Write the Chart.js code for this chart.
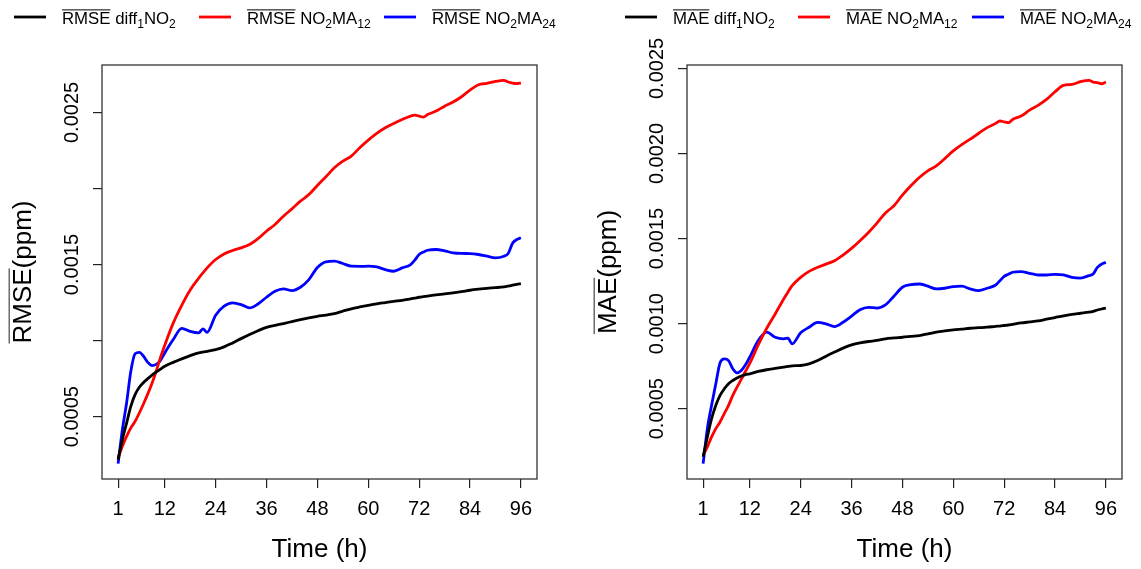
<!DOCTYPE html>
<html lang="en">
  <head>
    <meta charset="UTF-8" />
    <script src="https://cdn.jsdelivr.net/npm/chart.js@4.4.1/dist/chart.umd.min.js"></script>
    <title>RMSE / MAE</title>
    <style>
      body { margin: 0; background: #fff; }
      canvas { position: absolute; top: 0; }
      #rmseChart { left: 0; }
      #maeChart { left: 570px; }
    </style>
  </head>
  <body>
    <canvas id="rmseChart" width="570" height="569"></canvas>
    <canvas id="maeChart" width="571" height="569"></canvas>
    <script>
      const hours = [1, 2, 3, 4, 5, 6, 7, 8, 9, 10, 11, 12, 14, 16, 18, 20, 21, 22,
        24, 26, 28, 30, 32, 34, 36, 38, 40, 42, 44, 46,
        48, 50, 52, 54, 56, 58, 60, 62, 64, 66, 68, 70, 71, 72, 73, 74,
        76, 78, 80, 82, 84, 86, 88, 90, 92, 93, 94, 95, 96];

      const rmseDiff1 = [0.000217, 0.000349, 0.000458, 0.000568, 0.000645, 0.000693, 0.000725, 0.00075, 0.000773, 0.000794, 0.000813, 0.000831,
        0.000857, 0.00088, 0.000901, 0.000919, 0.000925, 0.00093,
        0.000941, 0.000959, 0.000985, 0.001013, 0.00104, 0.001065, 0.001087, 0.0011, 0.001112, 0.001125, 0.001138, 0.00115,
        0.00116, 0.001168, 0.001178, 0.001194, 0.001209, 0.001221, 0.001232, 0.001242, 0.00125, 0.001258, 0.001265, 0.001275,
        0.00128, 0.001285, 0.001289, 0.001293,
        0.001301, 0.001307, 0.001314, 0.001322, 0.001331, 0.001338, 0.001344, 0.001348, 0.001353,
        0.001358, 0.001364, 0.00137, 0.001375];
      const rmseMA12 = [0.000228, 0.000305, 0.00037, 0.000426, 0.000469, 0.000524, 0.000585, 0.00065, 0.00072, 0.0008, 0.00089, 0.00097,
        0.001115, 0.001232, 0.001333, 0.00141, 0.001445, 0.001478,
        0.001533, 0.00157, 0.001592, 0.00161, 0.001632, 0.001671, 0.001719, 0.001763, 0.001818, 0.001866, 0.001917, 0.00196,
        0.00202, 0.002077, 0.002136, 0.00218, 0.002213, 0.002268, 0.002318, 0.002362, 0.002399, 0.002428, 0.002454, 0.002476,
        0.002482, 0.002476, 0.002469, 0.002486,
        0.002509, 0.002541, 0.002568, 0.002603, 0.002647, 0.002682, 0.002691, 0.002704, 0.002711,
        0.0027, 0.002693, 0.002689, 0.002695];
      const rmseMA24 = [0.000191, 0.000414, 0.00059, 0.000798, 0.000914, 0.000923, 0.000897, 0.000857, 0.000836, 0.000844, 0.00087, 0.000919,
        0.001007, 0.001081, 0.001061, 0.001051, 0.001077, 0.001055,
        0.001166, 0.001226, 0.001248, 0.001237, 0.001215, 0.001241, 0.001285, 0.001324, 0.00134, 0.001329, 0.001351, 0.001401,
        0.00148, 0.001518, 0.001522, 0.001507, 0.001489, 0.001488, 0.001489, 0.001484, 0.001467, 0.001456, 0.001478, 0.0015,
        0.00153, 0.001566, 0.001582, 0.001594,
        0.001599, 0.00159, 0.001577, 0.001573, 0.001572, 0.001566, 0.001555, 0.001544, 0.001555,
        0.001572, 0.001638, 0.001664, 0.001676];

      const maeDiff1 = [0.000217, 0.000334, 0.000441, 0.00052, 0.000578, 0.000617, 0.000647, 0.000666, 0.00068, 0.000692, 0.0007, 0.000705,
        0.000719, 0.000729, 0.000737, 0.000745, 0.000749, 0.000752,
        0.000754, 0.000764, 0.000783, 0.000809, 0.000833, 0.000856, 0.000875, 0.000887, 0.000895, 0.000901, 0.000911, 0.000916,
        0.00092, 0.000925, 0.00093, 0.00094, 0.00095, 0.000957, 0.000963, 0.000968, 0.000973, 0.000976, 0.000979, 0.000984,
        0.000986, 0.000989, 0.000992, 0.000996,
        0.001004, 0.00101, 0.001016, 0.001026, 0.001036, 0.001046, 0.001055, 0.001061, 0.001067,
        0.001072, 0.00108, 0.001086, 0.001091];
      const maeMA12 = [0.000225, 0.000275, 0.000334, 0.000383, 0.000422, 0.000471, 0.00052, 0.000578, 0.000627, 0.000672, 0.00072, 0.000766,
        0.000875, 0.000973, 0.001057, 0.001145, 0.001185, 0.001223,
        0.001272, 0.001307, 0.001331, 0.00135, 0.00137, 0.001403, 0.001442, 0.001487, 0.001536, 0.001591, 0.00165, 0.001693,
        0.001755, 0.00181, 0.001859, 0.001898, 0.001927, 0.00197, 0.002015, 0.002052, 0.002084, 0.002119, 0.002152, 0.002177,
        0.002191, 0.002186, 0.002181, 0.0022,
        0.00222, 0.002255, 0.002283, 0.002318, 0.002363, 0.0024, 0.002406, 0.002422, 0.00243,
        0.00242, 0.002416, 0.00241, 0.00242];
      const maeMA24 = [0.000177, 0.000383, 0.00052, 0.000647, 0.00077, 0.000793, 0.000783, 0.000735, 0.000711, 0.000725, 0.000758, 0.000803,
        0.000901, 0.00095, 0.00092, 0.000911, 0.000915, 0.000881,
        0.000946, 0.000979, 0.001008, 0.000999, 0.000983, 0.001008, 0.001044, 0.001082, 0.001096, 0.001091, 0.00111, 0.001161,
        0.001214, 0.001229, 0.001233, 0.00122, 0.001204, 0.001208, 0.001218, 0.00122, 0.001204, 0.001194, 0.001208, 0.001227,
        0.001252, 0.001278, 0.00129, 0.001302,
        0.001306, 0.001296, 0.001286, 0.001286, 0.00129, 0.001286, 0.001272, 0.001268, 0.001282,
        0.001292, 0.001331, 0.00135, 0.00136];

      const xTicks = [1, 12, 24, 36, 48, 60, 72, 84, 96];
      const yTicks = [0.0005, 0.001, 0.0015, 0.002, 0.0025];
      const rmseTickLabels = ["0.0005", "", "0.0015", "", "0.0025"];
      const maeTickLabels = ["0.0005", "0.0010", "0.0015", "0.0020", "0.0025"];

      const colors = ["#000000", "#ff0000", "#0000ff"];
      const FONT = '"Liberation Sans", Arial, Helvetica, sans-serif';

      function points(vals) {
        return vals.map((v, i) => ({ x: hours[i], y: v }));
      }

      // data range stretched by 4% on both sides, like R's default axes
      function padded(list) {
        const all = [].concat(...list);
        const lo = Math.min(...all);
        const hi = Math.max(...all);
        const d = (hi - lo) * 0.04;
        return [lo - d, hi + d];
      }

      // label pieces: o = overline, s = subscript
      function legendLabels(metric) {
        return [
          [{ t: metric, o: 1 }, { t: " diff" }, { t: "1", s: 1 }, { t: "NO" }, { t: "2", s: 1 }],
          [{ t: metric, o: 1 }, { t: " NO" }, { t: "2", s: 1 }, { t: "MA" }, { t: "12", s: 1 }],
          [{ t: metric, o: 1 }, { t: " NO" }, { t: "2", s: 1 }, { t: "MA" }, { t: "24", s: 1 }],
        ];
      }

      function richWidth(ctx, segs, size) {
        let w = 0;
        segs.forEach((g) => {
          ctx.font = `${g.s ? size * 0.72 : size}px ${FONT}`;
          w += ctx.measureText(g.t).width;
        });
        return w;
      }

      function drawRich(ctx, segs, x, y, size) {
        ctx.textAlign = "left";
        ctx.textBaseline = "alphabetic";
        segs.forEach((g) => {
          ctx.font = `${g.s ? size * 0.72 : size}px ${FONT}`;
          const w = ctx.measureText(g.t).width;
          ctx.fillText(g.t, x, y + (g.s ? size * 0.24 : 0));
          if (g.o) {
            ctx.beginPath();
            ctx.lineWidth = 1;
            ctx.moveTo(x, y - size * 0.84);
            ctx.lineTo(x + w, y - size * 0.84);
            ctx.stroke();
          }
          x += w;
        });
      }

      const rStyle = {
        id: "rStyle",
        afterDraw(chart, args, opts) {
          const ctx = chart.ctx;
          const a = chart.chartArea;
          const xs = chart.scales.x;
          const ys = chart.scales.y;
          ctx.save();
          ctx.strokeStyle = "#222";
          ctx.fillStyle = "#000";
          ctx.lineWidth = 1.2;
          ctx.strokeRect(a.left, a.top, a.right - a.left, a.bottom - a.top);

          // tick labels
          ctx.font = `20px ${FONT}`;
          ctx.textAlign = "center";
          ctx.textBaseline = "middle";
          xTicks.forEach((t) => ctx.fillText(String(t), xs.getPixelForValue(t), a.bottom + 30));
          opts.tickLabels.forEach((lab, i) => {
            if (!lab) return;
            ctx.save();
            ctx.translate(a.left - 30, ys.getPixelForValue(yTicks[i]));
            ctx.rotate(-Math.PI / 2);
            ctx.fillText(lab, 0, 0);
            ctx.restore();
          });

          // axis titles
          ctx.font = `26px ${FONT}`;
          ctx.fillText("Time (h)", (a.left + a.right) / 2, a.bottom + 71);
          const title = [{ t: opts.metric, o: 1 }, { t: "(ppm)" }];
          const tw = richWidth(ctx, title, 26);
          ctx.save();
          ctx.translate(a.left - 80, (a.top + a.bottom) / 2);
          ctx.rotate(-Math.PI / 2);
          drawRich(ctx, title, -tw / 2, 9, 26);
          ctx.restore();

          // legend row
          legendLabels(opts.metric).forEach((segs, i) => {
            const x = opts.legendX[i];
            ctx.beginPath();
            ctx.strokeStyle = colors[i];
            ctx.lineWidth = 2.8;
            ctx.moveTo(x, 17);
            ctx.lineTo(x + 32, 17);
            ctx.stroke();
            ctx.strokeStyle = "#000";
            drawRich(ctx, segs, x + 48, 24, 16.8);
          });
          ctx.restore();
        },
      };

      function makeChart(id, series, metric, tickLabels, legendX, pad) {
        const [ylo, yhi] = padded(series);
        const [xlo, xhi] = padded([hours]);
        return new Chart(document.getElementById(id), {
          type: "line",
          data: {
            datasets: series.map((s, i) => ({
              data: points(s),
              borderColor: colors[i],
              borderWidth: 2.8,
              pointRadius: 0,
              cubicInterpolationMode: "monotone",
              fill: false,
            })),
          },
          options: {
            responsive: false,
            animation: false,
            devicePixelRatio: 1,
            layout: { padding: pad },
            plugins: {
              legend: { display: false },
              tooltip: { enabled: false },
              rStyle: { metric: metric, tickLabels: tickLabels, legendX: legendX },
            },
            scales: {
              x: {
                type: "linear",
                min: xlo,
                max: xhi,
                afterBuildTicks: (s) => { s.ticks = xTicks.map((v) => ({ value: v })); },
                afterFit: (s) => { s.height = 90; },
                ticks: { display: false },
                grid: { drawOnChartArea: false, drawTicks: true, tickLength: 9, color: "#222", lineWidth: 1.2 },
                border: { display: false },
              },
              y: {
                type: "linear",
                min: ylo,
                max: yhi,
                afterBuildTicks: (s) => { s.ticks = yTicks.map((v) => ({ value: v })); },
                afterFit: (s) => { s.width = 102; },
                ticks: { display: false },
                grid: { drawOnChartArea: false, drawTicks: true, tickLength: 9, color: "#222", lineWidth: 1.2 },
                border: { display: false },
              },
            },
          },
          plugins: [rStyle],
        });
      }

      makeChart("rmseChart", [rmseDiff1, rmseMA12, rmseMA24], "RMSE", rmseTickLabels,
        [14, 199, 384], { left: 0, right: 33, top: 65, bottom: 0 });
      makeChart("maeChart", [maeDiff1, maeMA12, maeMA24], "MAE", maeTickLabels,
        [55, 228, 402], { left: 15, right: 19, top: 65, bottom: 0 });
    </script>
  </body>
</html>
